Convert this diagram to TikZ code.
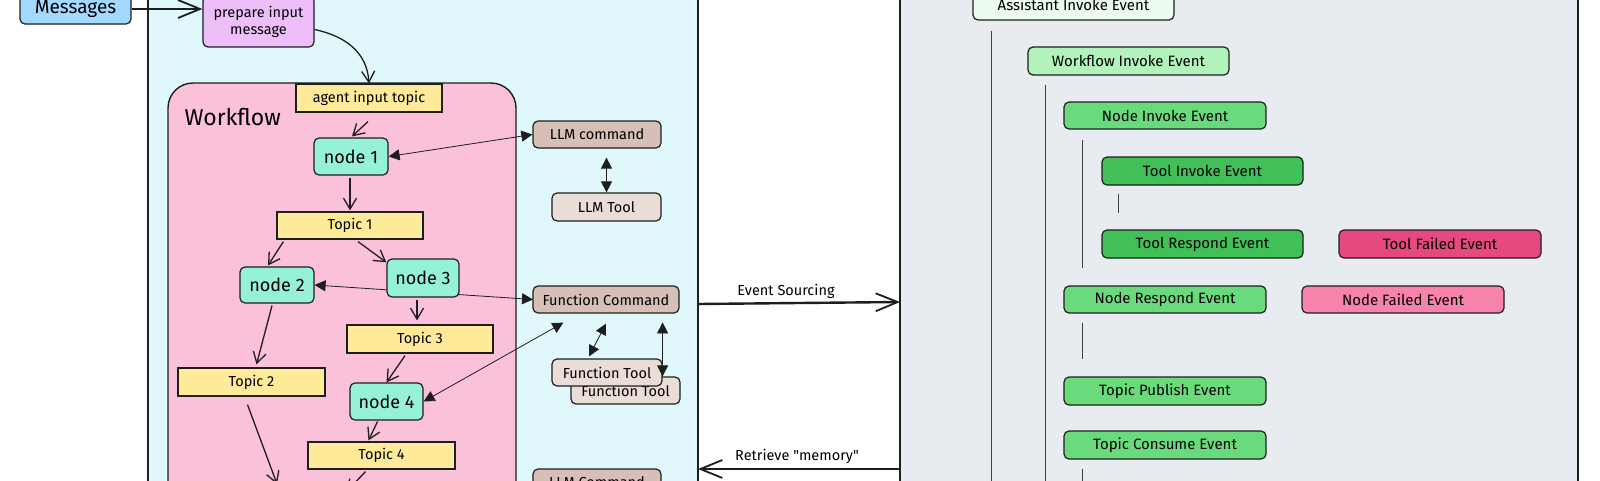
\documentclass[tikz,border=0pt]{standalone}
\usepackage{fontspec}
\setmainfont{Fira Sans}
\usetikzlibrary{arrows.meta,calc}
\definecolor{cyanbg}{HTML}{E0F8FB}
\definecolor{graybg}{HTML}{E8EBEF}
\definecolor{pinkbg}{HTML}{FBC1D8}
\definecolor{msgblue}{HTML}{A5D8FF}
\definecolor{prepurple}{HTML}{EEBEFA}
\definecolor{topicyel}{HTML}{FFEA99}
\definecolor{nodeteal}{HTML}{96F2D7}
\definecolor{cmdbrown}{HTML}{D5BFB6}
\definecolor{toolbrown}{HTML}{EADDD7}
\definecolor{grA}{HTML}{EBFBEE}
\definecolor{grB}{HTML}{B2F2BB}
\definecolor{grC}{HTML}{69DB7C}
\definecolor{grD}{HTML}{40C057}
\definecolor{redA}{HTML}{E64980}
\definecolor{redB}{HTML}{F783AC}
\definecolor{ink}{HTML}{1E1E1E}
\begin{document}
\begin{tikzpicture}[x=1pt,y=-1pt,
  base/.style={draw=ink, line width=1.2pt, inner sep=0pt, align=center, font=\fontsize{14.5}{17}\selectfont},
  rbox/.style={base, rounded corners=5pt},
  topic/.style={base, fill=topicyel},
  wfnode/.style={rbox, fill=nodeteal, font=\fontsize{18}{21}\selectfont},
  evt/.style={rbox, font=\fontsize{15}{18}\selectfont},
  container/.style={draw=ink, line width=1.5pt, inner sep=0pt},
  arr/.style={draw=ink, line width=1.3pt, -{Straight Barb[length=11pt,width=13pt,line width=1.3pt]}},
  bigarr/.style={draw=ink, line width=2.4pt, -{Straight Barb[length=22pt,width=18pt,line width=1.8pt]}},
  biarr/.style={draw=ink, line width=0.8pt, {Triangle[length=11pt,width=11pt]}-{Triangle[length=11pt,width=11pt]}},
  vline/.style={draw=ink!85, line width=1.2pt},
  lbl/.style={font=\fontsize{14.5}{17}\selectfont, inner sep=1pt}
]
\useasboundingbox (0,0) rectangle (1600,480);
\clip (0,0) rectangle (1600,480);
\fill[white] (0,0) rectangle (1600,480);

% containers
\node[container, fill=cyanbg, minimum width=550pt, minimum height=520pt] (agent) at (423,230) {};
\node[container, fill=graybg, minimum width=678pt, minimum height=520pt] (panel) at (1239,230) {};
\node[draw=ink, line width=1.4pt, fill=pinkbg, rounded corners=25pt, inner sep=0pt,
      minimum width=348pt, minimum height=440pt] (wf) at (342,303) {};
\node[anchor=west, font=\fontsize{23}{27}\selectfont] (wflabel) at (181,117) {Workflow};

% left boxes
\node[rbox, fill=msgblue, minimum width=111pt, minimum height=30pt, font=\fontsize{19}{22}\selectfont] (msg) at (75.5,9) {Messages};
\node[rbox, fill=prepurple, minimum width=111pt, minimum height=51pt] (prep) at (258.5,21.5) {prepare input\\message};
\node[topic, minimum width=146pt, minimum height=28pt] (ait) at (369,98) {agent input topic};
\node[wfnode, minimum width=74pt, minimum height=37pt] (n1) at (351,156.5) {node 1};
\node[topic, minimum width=146pt, minimum height=27pt] (t1) at (350,225.5) {Topic 1};
\node[wfnode, minimum width=74pt, minimum height=36pt] (n2) at (277,285) {node 2};
\node[topic, minimum width=146pt, minimum height=28pt] (t3) at (420,339) {Topic 3};
\node[topic, minimum width=147pt, minimum height=27pt] (t4) at (381.5,455.5) {Topic 4};
\node[topic, minimum width=147pt, minimum height=28pt] (t2) at (251.5,382) {Topic 2};

% thin connector behind node 3
\draw[biarr] (n2.east) -- (533,299.5) coordinate (fcw);

\node[wfnode, minimum width=72pt, minimum height=38pt] (n3) at (423,278) {node 3};
\node[wfnode, minimum width=73pt, minimum height=37pt] (n4) at (386.5,401.5) {node 4};

% commands and tools
\node[rbox, fill=cmdbrown, minimum width=128pt, minimum height=27pt] (llmc) at (597,134.5) {LLM command};
\node[rbox, fill=toolbrown, minimum width=109pt, minimum height=28pt] (llmt) at (606.5,207) {LLM Tool};
\node[rbox, fill=cmdbrown, minimum width=146pt, minimum height=27pt] (fc) at (606,299.5) {Function Command};
\node[rbox, fill=toolbrown, minimum width=109pt, minimum height=27pt] (ft2) at (625.5,390.5) {Function Tool};
\node[rbox, fill=toolbrown, minimum width=110pt, minimum height=27pt] (ft1) at (607,372.5) {Function Tool};
\node[rbox, fill=cmdbrown, minimum width=128pt, minimum height=27pt] (llmc2) at (597,482.5) {LLM Command};

% workflow arrows
\draw[bigarr] (msg.east) -- (msg.east -| prep.west);
\draw[arr] ([yshift=-8pt]prep.east) .. controls (345,36) and (367,52) .. (ait.north);
\draw[arr] ($(ait.south)+(-1,9)$) -- ($(n1.north)+(1,-1)$);
\draw[arr] ($(n1.south)+(-1,2)$) -- ($(t1.north)+(0,-1)$);
\draw[arr] ($(t1.south west)+(7,2)$) -- ($(n2.north)+(-9,-1)$);
\draw[arr] ($(t1.south)+(8,2)$) -- ($(n3.north west)+(0,4)$);
\draw[arr] ($(n3.south)+(-6,2)$) -- ($(t3.north)+(-3,-4)$);
\draw[arr] ($(t3.south)+(-15,2)$) -- (n4.north);
\draw[arr] ($(n4.south)+(-9,1)$) -- ($(t4.north)+(-13,-1)$);
\draw[arr] ($(n2.south)+(-5,2)$) -- ($(t2.north)+(5,-3)$);
\coordinate (down2) at (277,484);
\coordinate (down4) at (346,492);
\draw[arr] ($(t2.south)+(-4,8)$) -- (down2);
\draw[arr] ($(t4.south)+(-16,2)$) -- (down4);

% thin bidirectional connectors
\draw[biarr] (n1.east) -- (llmc.west);
\draw[biarr] (llmt.north) -- ($(llmt.north |- llmc.south)+(0,9)$);
\draw[biarr] ($(fc.south west)+(31,9)$) -- (n4.east);
\draw[biarr] ($(fc.south)+(0,10)$) -- ($(ft1.north)+(-18,-2)$);
\draw[biarr] ($(ft2.north east)+(-18,-54)$) -- ($(ft2.north east)+(-18,0)$);

% event sourcing arrows
\coordinate (es1) at (698,304);
\coordinate (es2) at (900,302);
\draw[bigarr] (es1) -- (es2);
\node[lbl, anchor=south] (eslbl) at (786,300) {Event Sourcing};
\coordinate (rm1) at (900,469);
\coordinate (rm2) at (698,469);
\draw[bigarr] (rm1) -- (rm2);
\node[lbl, anchor=south] (rmlbl) at (797,465) {Retrieve \textquotedbl memory\textquotedbl};

% events
\node[evt, fill=grA, minimum width=201pt, minimum height=30pt] (aie) at (1073.5,5) {Assistant Invoke Event};
\node[evt, fill=grB, minimum width=201pt, minimum height=28pt] (wie) at (1128.5,61) {Workflow Invoke Event};
\node[evt, fill=grC, minimum width=202pt, minimum height=27pt] (nie) at (1165,115.5) {Node Invoke Event};
\node[evt, fill=grD, minimum width=201pt, minimum height=28pt] (tie) at (1202.5,171) {Tool Invoke Event};
\node[evt, fill=grD, minimum width=201pt, minimum height=28pt] (tre) at (1202.5,244) {Tool Respond Event};
\node[evt, fill=redA, minimum width=202pt, minimum height=28pt] (tfe) at (1440,244) {Tool Failed Event};
\node[evt, fill=grC, minimum width=202pt, minimum height=27pt] (nre) at (1165,299.5) {Node Respond Event};
\node[evt, fill=redB, minimum width=202pt, minimum height=27pt] (nfe) at (1403,299.5) {Node Failed Event};
\node[evt, fill=grC, minimum width=202pt, minimum height=28pt] (tpe) at (1165,391) {Topic Publish Event};
\node[evt, fill=grC, minimum width=202pt, minimum height=28pt] (tce) at (1165,445) {Topic Consume Event};

% tree lines
\draw[vline] ($(aie.south west)+(19,10)$) -- ++(0,480);
\draw[vline] ($(wie.south west)+(18,9)$) -- ++(0,420);
\draw[vline] ($(nie.south west)+(19,10)$) -- ($(nie.south west)+(19,138)$);
\draw[vline] ($(tie.south west)+(17,8)$) -- ($(tie.south west)+(17,27)$);
\draw[vline] ($(nre.south west)+(19,9)$) -- ($(nre.south west)+(19,45)$);
\draw[vline] ($(tce.south west)+(19,9)$) -- ++(0,40);
\end{tikzpicture}
\end{document}
